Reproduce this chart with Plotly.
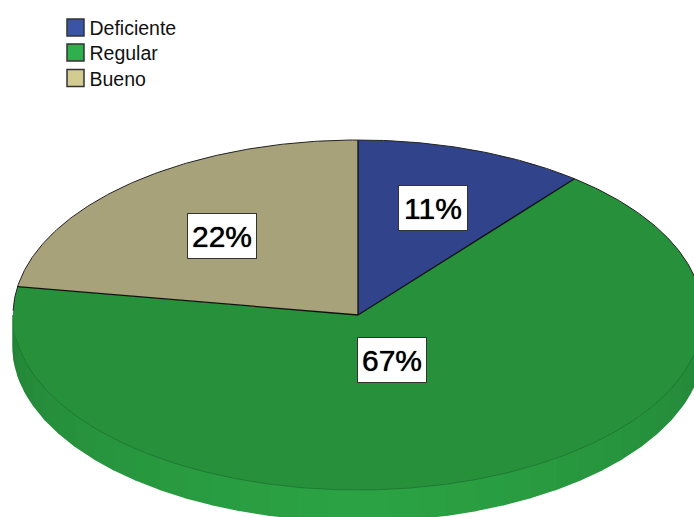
import numpy as np
import plotly.graph_objects as go

categories = ["Deficiente", "Regular", "Bueno"]
values = [10.8, 66.8, 22.4]
labels = ["11%", "67%", "22%"]
top_colors = ["#30438b", "#27903b", "#a8a27a"]
legend_colors = ["#3a55a6", "#2eb04c", "#d2cc90"]
label_x = [433, 392, 222]
label_y = [208, 360, 236]
legend_x = [75.5, 75.5, 75.5]
legend_y = [27.5, 52.5, 78]

W, H = 694, 517
CX, CY, RX, RY = 358, 315, 345, 175
DEPTH = 31


def pt(deg):
    t = np.radians(np.asarray(deg, dtype=float))
    return CX + RX * np.sin(t), CY - RY * np.cos(t)


fig = go.Figure()

# side wall, front half of the ellipse
edges = np.linspace(90, 270, 37)
for a, b in zip(edges[:-1], edges[1:]):
    f = 1 - abs((a + b) / 2 - 180) / 90
    c = tuple(int(round(s + (e - s) * f ** 0.7)) for s, e in zip((34, 128, 54), (43, 163, 67)))
    arc = np.linspace(a, b, 4)
    x, y = pt(arc)
    fig.add_trace(go.Scatter(
        x=list(x) + list(x[::-1]), y=list(y + DEPTH) + list(y[::-1]),
        fill="toself", mode="lines", line=dict(width=1.5, color="rgb(%d,%d,%d)" % c),
        fillcolor="rgb(%d,%d,%d)" % c, showlegend=False, hoverinfo="skip"))

# top slices
ends = np.cumsum(values) / sum(values) * 360
starts = np.concatenate([[0], ends[:-1]])
for name, a, b, col in zip(categories, starts, ends, top_colors):
    arc = np.linspace(a, b, 200)
    x, y = pt(arc)
    fig.add_trace(go.Scatter(
        x=[CX] + list(x) + [CX], y=[CY] + list(y) + [CY],
        fill="toself", mode="lines", line=dict(width=0, color=col),
        fillcolor=col, showlegend=False, name=name, hoverinfo="skip"))

# radii and rim lines
for a in starts:
    x, y = pt([a])
    fig.add_trace(go.Scatter(x=[CX, x[0]], y=[CY, y[0]], mode="lines",
                             line=dict(color="#111111", width=1.3),
                             showlegend=False, hoverinfo="skip"))
x, y = pt(np.linspace(ends[1] - 360 - 8, ends[0] + 45, 300))
fig.add_trace(go.Scatter(x=x, y=y, mode="lines", line=dict(color="#222222", width=1),
                         showlegend=False, hoverinfo="skip"))
x, y = pt(np.linspace(90, 262, 300))
fig.add_trace(go.Scatter(x=x, y=y, mode="lines", line=dict(color="#1d6e30", width=0.7),
                         showlegend=False, hoverinfo="skip"))

# legend entries
for name, col, lx, ly in zip(categories, legend_colors, legend_x, legend_y):
    fig.add_trace(go.Scatter(x=[lx], y=[ly], mode="markers", name=name, showlegend=False,
                             marker=dict(symbol="square", size=17, color=col,
                                         line=dict(color="#333333", width=1.5))))
    fig.add_trace(go.Scatter(x=[lx + 14], y=[ly + 3], mode="text", name=name, text=[name],
                             textposition="middle right", showlegend=False,
                             textfont=dict(family="Liberation Sans", size=19.5, color="#111111")))

for txt, lx, ly in zip(labels, label_x, label_y):
    fig.add_annotation(x=lx, y=ly, text=txt, showarrow=False, xref="x", yref="y",
                       font=dict(family="Liberation Sans", size=30, color="#000000",
                                 shadow="0 0 1px #000000"),
                       bgcolor="#ffffff", bordercolor="#333333", borderwidth=1,
                       width=68, height=44, align="center", valign="middle", borderpad=0)

fig.update_layout(
    width=W, height=H, margin=dict(l=0, r=0, t=0, b=0),
    paper_bgcolor="#ffffff", plot_bgcolor="#ffffff",
    xaxis=dict(range=[0, W], visible=False, fixedrange=True),
    yaxis=dict(range=[H, 0], visible=False, fixedrange=True),
    font=dict(family="Liberation Sans", size=19.5, color="#111111"),
    showlegend=False,
)
fig.write_html("out.html", config=dict(displayModeBar=False),
               post_script="document.body.style.margin='0';")
